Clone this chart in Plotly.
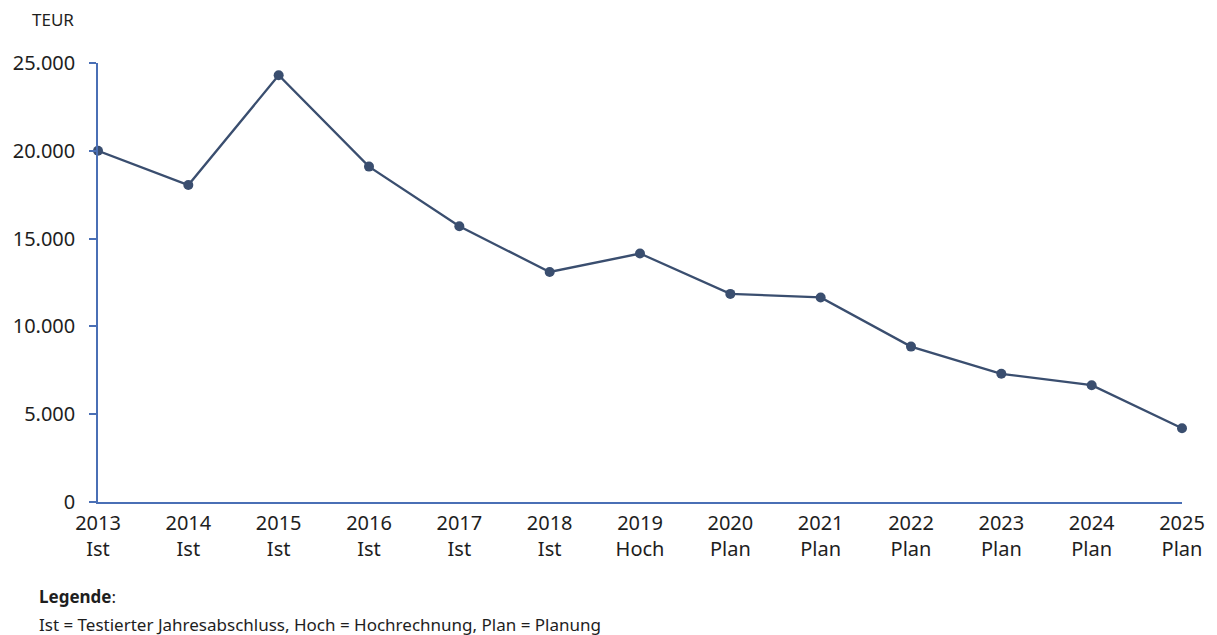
import plotly.graph_objects as go

# Jahreswerte in TEUR
jahre = ["2013", "2014", "2015", "2016", "2017", "2018", "2019",
         "2020", "2021", "2022", "2023", "2024", "2025"]
status = ["Ist", "Ist", "Ist", "Ist", "Ist", "Ist", "Hoch",
          "Plan", "Plan", "Plan", "Plan", "Plan", "Plan"]
werte = [20000, 18050, 24300, 19100, 15700, 13100, 14150,
         11850, 11650, 8850, 7300, 6650, 4200]
y_ticks = [0, 5000, 10000, 15000, 20000, 25000]
y_labels = ["0", "5.000", "10.000", "15.000", "20.000", "25.000"]

FONT = "Noto Sans"
LINE = "#3A4E6F"
AXIS = "#4A6FB5"
TEXT = "#1e1e1e"

pos = list(range(len(jahre)))

fig = go.Figure(go.Scatter(
    x=pos, y=werte, mode="lines+markers",
    line=dict(color=LINE, width=2.3),
    marker=dict(color=LINE, size=10),
    cliponaxis=False, hoverinfo="skip",
))

fig.update_layout(
    width=1217, height=635,
    margin=dict(l=98, r=27, t=63, b=133),
    paper_bgcolor="white", plot_bgcolor="white",
    showlegend=False,
    font=dict(family=FONT, size=20, color=TEXT),
    xaxis=dict(
        range=[0, len(jahre) - 1],
        tickvals=pos,
        ticktext=[f"{j}<br>{s}" for j, s in zip(jahre, status)],
        showgrid=False, zeroline=False,
        showline=True, linecolor=AXIS, linewidth=1.5,
        ticks="", tickfont=dict(size=20),
        ticklabelstandoff=2,
    ),
    yaxis=dict(
        range=[0, 25000],
        tickvals=y_ticks, ticktext=y_labels,
        showgrid=False, zeroline=False,
        showline=True, linecolor=AXIS, linewidth=1.5,
        ticks="outside", ticklen=7, tickcolor=AXIS, tickwidth=1.5,
        tickfont=dict(size=20), ticklabelstandoff=10,
    ),
    annotations=[
        dict(text="TEUR", xref="paper", yref="paper", x=-0.0625, y=1.098,
             xanchor="left", yanchor="middle", showarrow=False,
             font=dict(size=17)),
        dict(text="<b>Legende</b>:", xref="paper", yref="paper",
             x=-0.056, y=-0.216, xanchor="left", yanchor="middle",
             showarrow=False, font=dict(size=17)),
        dict(text="Ist = Testierter Jahresabschluss, Hoch = Hochrechnung, Plan = Planung",
             xref="paper", yref="paper", x=-0.056, y=-0.28,
             xanchor="left", yanchor="middle", showarrow=False,
             font=dict(size=17)),
    ],
)

fig.write_html("out.html")
